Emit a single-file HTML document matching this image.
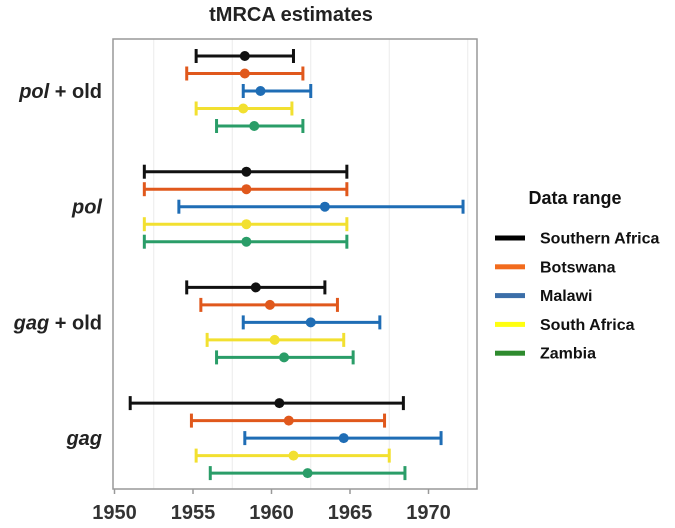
<!DOCTYPE html>
<html><head><meta charset="utf-8"><style>
body{margin:0;background:#fff;font-family:"Liberation Sans",sans-serif;}
svg text{font-family:"Liberation Sans",sans-serif;font-weight:bold;}
</style></head><body>
<svg width="675" height="523" viewBox="0 0 675 523">
<text x="291" y="21" text-anchor="middle" font-size="20" fill="#222">tMRCA estimates</text>
<g id="grid"></g>
<rect x="113" y="39" width="364" height="450" fill="none" stroke="#999" stroke-width="1.5"/>
<g id="marks"></g>
<g id="axes"></g>
<g id="legend">
<text x="575" y="204" text-anchor="middle" font-size="18" fill="#111">Data range</text>
</g>
</svg>
<script>
const categories = ["pol + old","pol","gag + old","gag"];
const seriesNames = ["Southern Africa","Botswana","Malawi","South Africa","Zambia"];
const lowVals = [[1955.2,1954.6,1958.2,1955.2,1956.5],[1951.9,1951.9,1954.1,1951.9,1951.9],[1954.6,1955.5,1958.2,1955.9,1956.5],[1951.0,1954.9,1958.3,1955.2,1956.1]];
const midVals = [[1958.3,1958.3,1959.3,1958.2,1958.9],[1958.4,1958.4,1963.4,1958.4,1958.4],[1959.0,1959.9,1962.5,1960.2,1960.8],[1960.5,1961.1,1964.6,1961.4,1962.3]];
const highVals = [[1961.4,1962.0,1962.5,1961.3,1962.0],[1964.8,1964.8,1972.2,1964.8,1964.8],[1963.4,1964.2,1966.9,1964.6,1965.2],[1968.4,1967.2,1970.8,1967.5,1968.5]];
const xTicks = [1950,1955,1960,1965,1970];
const NS="http://www.w3.org/2000/svg";
const colors=["#111111","#e0581c","#1f6db5","#f2e030","#2a9d68"];
const legendColors=["#000000","#f26b1d","#3b6ea8","#ffff10","#2e8b2e"];
const x=v=>114.5+(v-1950)*15.7;
const catY=i=>91+i*115.7;
const y=(i,s)=>catY(i)+(s-2)*17.5;
function mk(t,a,p){const e=document.createElementNS(NS,t);for(const k in a)e.setAttribute(k,a[k]);p.appendChild(e);return e;}
const grid=document.getElementById('grid'),marks=document.getElementById('marks'),axes=document.getElementById('axes'),legend=document.getElementById('legend');
for(let v=1952.5;v<1975;v+=5){const g=mk('line',{x1:x(v),x2:x(v),y1:39,y2:489,stroke:'#ebebeb','stroke-width':1},grid);

}
xTicks.forEach(t=>{const l=mk('line',{x1:x(t),x2:x(t),y1:489,y2:494,stroke:'#999','stroke-width':1.5},axes);


const tx=mk('text',{x:x(t),y:519,'text-anchor':'middle','font-size':20,fill:'#333'},axes);tx.textContent=t;

});
categories.forEach((c,i)=>{
 const tx=mk('text',{x:102,y:catY(i)+7,'text-anchor':'end','font-size':20,fill:'#222'},axes);
 
 
 const parts=c.split(' + ');
 const a=mk('tspan',{'font-style':'italic'},tx);a.textContent=parts[0];
 if(parts[1]){const b=mk('tspan',{},tx);b.textContent=' + '+parts[1];}
 seriesNames.forEach((s,j)=>{
  const g=mk('g',{stroke:colors[j],'stroke-width':3},marks);
  
  
  const yy=y(i,j);
  mk('line',{x1:x(lowVals[i][j]),x2:x(highVals[i][j]),y1:yy,y2:yy},g);
  mk('line',{x1:x(lowVals[i][j]),x2:x(lowVals[i][j]),y1:yy-7,y2:yy+7},g);
  mk('line',{x1:x(highVals[i][j]),x2:x(highVals[i][j]),y1:yy-7,y2:yy+7},g);
  const p=mk('circle',{cx:x(midVals[i][j]),cy:yy,r:5,fill:colors[j],stroke:'none'},marks);
  
  
 });
});
seriesNames.forEach((s,j)=>{
 const yy=238+j*28.8;
 const r=mk('rect',{x:495,y:yy-2.5,width:30,height:5,fill:legendColors[j]},legend);
 
 
 const t=mk('text',{x:540,y:yy+5.5,'font-size':16,fill:'#111'},legend);t.textContent=s;
 
 
});
</script>
</body></html>
